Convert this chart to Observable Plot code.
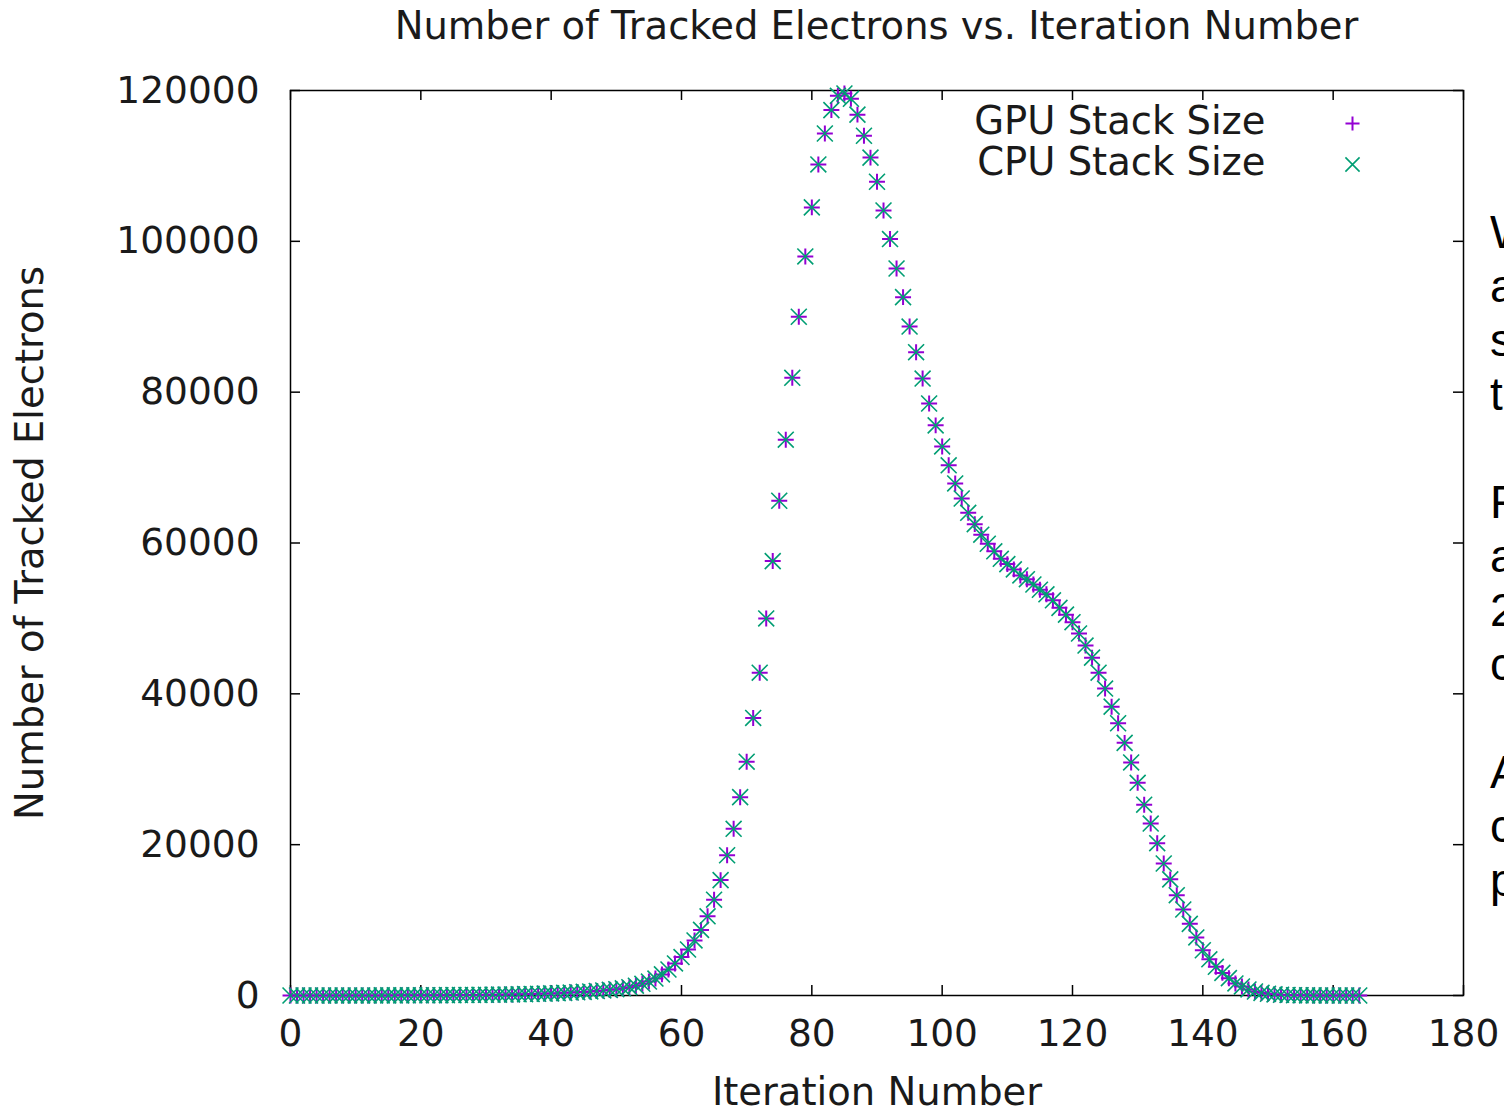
<!DOCTYPE html>
<html><head><meta charset="utf-8">
<script src="https://cdn.jsdelivr.net/npm/d3@7"></script>
<script src="https://cdn.jsdelivr.net/npm/@observablehq/plot@0.6"></script>
<style>
html,body{margin:0;padding:0;background:#fff;width:1504px;height:1113px;overflow:hidden;position:relative;font-family:"DejaVu Sans",sans-serif;}
#title{position:absolute;left:290px;width:1173px;top:0;height:52px;line-height:52px;text-align:center;font-size:38.5px;color:#1a1a1a;white-space:nowrap;}
#chart{position:absolute;left:0;top:52px;}
#side{position:absolute;left:1490px;top:205px;font-family:"Liberation Sans",Arial,sans-serif;font-size:46px;line-height:54px;white-space:pre;color:#000;}
</style></head><body>
<div id="title">Number of Tracked Electrons vs. Iteration Number</div>
<div id="chart"></div>
<div id="side">W
a
s
t

F
a
2
c

A
c
p</div>
<script>
const xTicks = [0, 20, 40, 60, 80, 100, 120, 140, 160, 180];
const yTicks = [0, 20000, 40000, 60000, 80000, 100000, 120000];
const xLabel = "Iteration Number";
const yLabel = "Number of Tracked Electrons";
const seriesNames = ["GPU Stack Size", "CPU Stack Size"];

const iterations = d3.range(0, 165);

const gpuStack = [
  1, 1, 2, 2, 3, 3, 4, 5, 6, 7,
  8, 9, 11, 12, 14, 16, 18, 20, 23, 26,
  29, 33, 37, 41, 46, 52, 58, 65, 73, 82,
  92, 103, 115, 129, 144, 161, 180, 200, 225, 250,
  280, 310, 350, 390, 430, 480, 540, 600, 670, 750,
  840, 950, 1100, 1300, 1550, 1850, 2250, 2800, 3450, 4250,
  5100, 6100, 7300, 8700, 10500, 12700, 15300, 18600, 22100, 26300,
  31000, 36800, 42800, 50000, 57600, 65600, 73700, 81900, 90000, 98000,
  104500, 110200, 114300, 117400, 119300, 119600, 118900, 116800, 114000, 111100,
  107900, 104100, 100300, 96400, 92600, 88700, 85300, 81800, 78500, 75600,
  72800, 70300, 67900, 65900, 64000, 62500, 61100, 59900, 58900, 57900,
  57200, 56500, 55700, 55200, 54500, 53800, 53200, 52400, 51400, 50500,
  49500, 48000, 46400, 44800, 42800, 40700, 38300, 36100, 33500, 30900,
  28200, 25300, 22800, 20200, 17500, 15400, 13300, 11400, 9500, 7700,
  6000, 4800, 3800, 3000, 2300, 1600, 1200, 800, 530, 350,
  230, 150, 100, 70, 45, 30, 20, 13, 8, 5,
  3, 2, 1, 1, 0
];

const cpuStack = [
  1, 1, 2, 2, 3, 3, 4, 5, 6, 7,
  8, 9, 11, 12, 14, 16, 18, 20, 23, 26,
  29, 33, 37, 41, 46, 52, 58, 65, 73, 82,
  92, 103, 115, 129, 144, 161, 180, 200, 225, 250,
  280, 310, 350, 390, 430, 480, 540, 600, 670, 750,
  840, 950, 1100, 1300, 1550, 1850, 2250, 2800, 3450, 4250,
  5100, 6100, 7300, 8700, 10500, 12700, 15300, 18600, 22100, 26300,
  31000, 36800, 42800, 50000, 57600, 65600, 73700, 81900, 90000, 98000,
  104500, 110200, 114300, 117400, 119300, 119600, 118900, 116800, 114000, 111100,
  107900, 104100, 100300, 96400, 92600, 88700, 85300, 81800, 78500, 75600,
  72800, 70300, 67900, 65900, 64000, 62500, 61100, 59900, 58900, 57900,
  57200, 56500, 55700, 55200, 54500, 53800, 53200, 52400, 51400, 50500,
  49500, 48000, 46400, 44800, 42800, 40700, 38300, 36100, 33500, 30900,
  28200, 25300, 22800, 20200, 17500, 15400, 13300, 11400, 9500, 7700,
  6000, 4800, 3800, 3000, 2300, 1600, 1200, 800, 530, 350,
  230, 150, 100, 70, 45, 30, 20, 13, 8, 5,
  3, 2, 1, 1, 0
];

const rows = iterations.map((it, i) => ({it, gpu: gpuStack[i], cpu: cpuStack[i]}));

const W = 1504, H = 1061;
const mL = 290, mR = 41, mT = 38, mB = 118;
const fw = W - mL - mR, fh = H - mT - mB;
const tick = 10;
const purple = "#9400d3", teal = "#009e73";
const ink = "#1a1a1a";

const chart = Plot.plot({
  width: W, height: H,
  marginLeft: mL, marginRight: mR, marginTop: mT, marginBottom: mB,
  style: {fontFamily: "'DejaVu Sans', sans-serif", fontSize: "37.5px", color: ink, background: "transparent", overflow: "visible"},
  x: {domain: [0, 180]},
  y: {domain: [0, 120000]},
  marks: [
    Plot.tickX(xTicks, {x: d => d, insetTop: fh - tick, stroke: "#000", strokeWidth: 1.5}),
    Plot.tickX(xTicks, {x: d => d, insetBottom: fh - tick, stroke: "#000", strokeWidth: 1.5}),
    Plot.tickY(yTicks, {y: d => d, insetRight: fw - tick, stroke: "#000", strokeWidth: 1.5}),
    Plot.tickY(yTicks, {y: d => d, insetLeft: fw - tick, stroke: "#000", strokeWidth: 1.5}),
    Plot.axisX({ticks: xTicks, tickSize: 0, tickPadding: 24, label: null, fontSize: 37.5, fill: ink, tickFormat: d => String(d)}),
    Plot.axisY({ticks: yTicks, tickSize: 0, tickPadding: 31, label: null, fontSize: 37.5, fill: ink, tickFormat: d => String(d)}),
    Plot.frame({stroke: "#000", strokeWidth: 1.5}),
    Plot.dot(rows, {x: "it", y: "gpu", symbol: "plus", r: 5.2, stroke: purple, strokeWidth: 2}),
    Plot.dot(rows, {x: "it", y: "cpu", symbol: "times", r: 7.3, stroke: teal, strokeWidth: 1.6}),
    Plot.text([xLabel], {text: d => d, frameAnchor: "bottom", dy: 97, lineAnchor: "middle", textAnchor: "middle", fontSize: 38.5, fill: ink}),
    Plot.text([yLabel], {text: d => d, frameAnchor: "left", dx: -260, rotate: -90, lineAnchor: "middle", textAnchor: "middle", fontSize: 38.5, fill: ink}),
    Plot.text([seriesNames[0]], {text: d => d, frameAnchor: "top-right", dx: -198, dy: 31, textAnchor: "end", lineAnchor: "middle", fontSize: 38.5, fill: ink}),
    Plot.text([seriesNames[1]], {text: d => d, frameAnchor: "top-right", dx: -198, dy: 72, textAnchor: "end", lineAnchor: "middle", fontSize: 38.5, fill: ink}),
    Plot.dot([seriesNames[0]], {x: null, y: null, frameAnchor: "top-right", dx: -111, dy: 33, symbol: "plus", r: 4.6, stroke: purple, strokeWidth: 2}),
    Plot.dot([seriesNames[1]], {x: null, y: null, frameAnchor: "top-right", dx: -111, dy: 74, symbol: "times", r: 6.5, stroke: teal, strokeWidth: 1.6})
  ]
});
document.getElementById("chart").appendChild(chart);
</script>
</body></html>
